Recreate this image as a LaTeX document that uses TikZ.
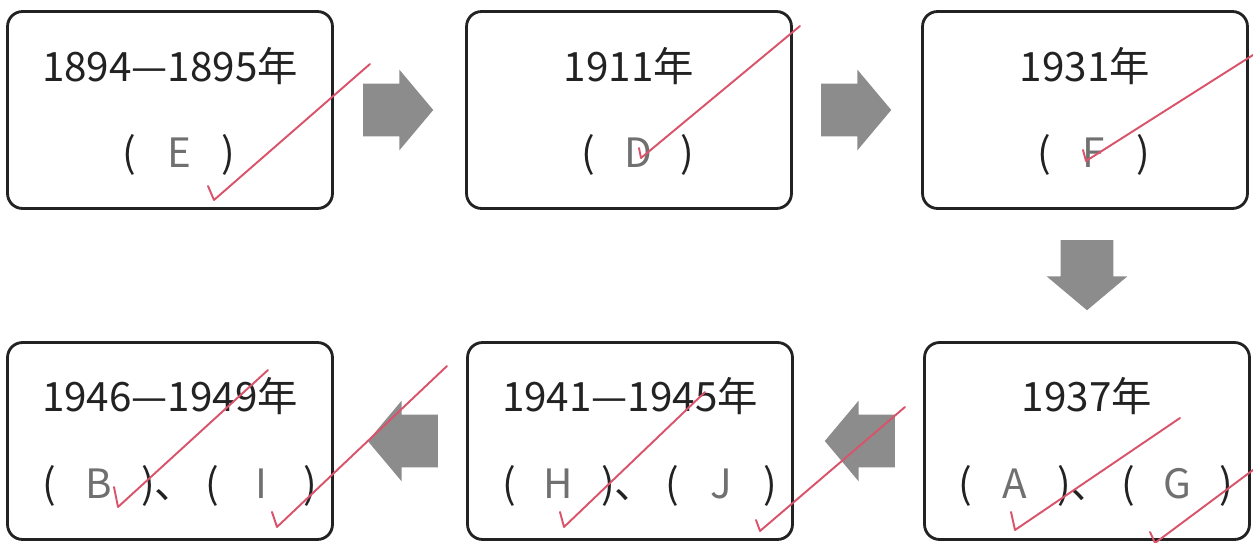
\documentclass[tikz,border=0pt]{standalone}
\usepackage{fontspec}
\setmainfont{Noto Sans CJK SC}
\usetikzlibrary{shapes.arrows,calc}
\definecolor{inkline}{HTML}{222222}
\definecolor{arrowgray}{HTML}{8C8C8C}
\definecolor{pencil}{HTML}{707070}
\definecolor{redpen}{HTML}{D9536A}
\newcommand{\ans}[1]{\makebox[2.1em]{\textcolor{pencil}{#1}}}

\begin{document}
\begin{tikzpicture}[x=0.02cm,y=-0.02cm,
  yearbox/.style={draw=inkline,line width=1.6pt,rounded corners=0.3cm,minimum width=6.5cm,minimum height=3.94cm,inner sep=0pt},
  yeartext/.style={font=\fontsize{23pt}{27pt}\selectfont,text=inkline,anchor=base,inner sep=0pt},
  flowarrow/.style={single arrow,fill=arrowgray,draw=none,anchor=tail,minimum height=1.4cm,inner xsep=0pt,inner ysep=0.52cm,single arrow head extend=0.28cm,single arrow tip angle=100},
  downarrow/.style={flowarrow,shape border rotate=270,inner xsep=0.52cm,inner ysep=0pt},
  tick/.style={draw=redpen,line width=1.1pt,line cap=round,line join=round}]
\useasboundingbox[fill=white] (0,0) rectangle (1253,543);

% boxes
\node[yearbox] (b1) at (170,110) {};
\node[yearbox] (b2) at (629,110) {};
\node[yearbox] (b3) at (1085,110) {};
\node[yearbox] (b4) at (170,441) {};
\node[yearbox] (b5) at (630,441) {};
\node[yearbox] (b6) at (1087,441) {};

% years
\node[yeartext] (y1) at ($(b1)+(0,-28)$) {1894—1895年};
\node[yeartext] (y2) at ($(b2)+(0,-28)$) {1911年};
\node[yeartext] (y3) at ($(b3)+(0,-28)$) {1931年};
\node[yeartext] (y4) at ($(b4)+(0,-29)$) {1946—1949年};
\node[yeartext] (y5) at ($(b5)+(0,-29)$) {1941—1945年};
\node[yeartext] (y6) at ($(b6)+(0,-29)$) {1937年};

% answers
\node[yeartext] (a1) at ($(b1)+(9,58)$) {(\ans{E})};
\node[yeartext] (a2) at ($(b2)+(9,58)$) {(\ans{D})};
\node[yeartext] (a3) at ($(b3)+(9,58)$) {(\ans{F})};
\node[yeartext] (a4) at ($(b4)+(10,57)$) {(\ans{B})、\hspace{0.25em}(\ans{I})};
\node[yeartext] (a5) at ($(b5)+(10,57)$) {(\ans{H})、\hspace{0.25em}(\ans{J})};
\node[yeartext] (a6) at ($(b6)+(9,57)$) {(\ans{A})、\hspace{0.25em}(\ans{G})};

% arrows
\node[flowarrow] (r12) at ($(b1.east)+(29,0)$) {};
\node[flowarrow] (r23) at ($(b2.east)+(28,0)$) {};
\node[downarrow] (r36) at ($(b3.south)+(2,30)$) {};
\node[flowarrow,shape border rotate=180] (r65) at ($(b6.west)+(-28,0)$) {};
\node[flowarrow,shape border rotate=180] (r54) at ($(b5.west)+(-28,0)$) {};

% red pen checks
\draw[tick] (208,186) -- (214,200) -- (370,64);
\draw[tick] (639,148) -- (641,158) -- (800,26);
\draw[tick] (1083,150) -- (1086,161) -- (1253,55);
\draw[tick] (114,487) -- (118,507) -- (268,370);
\draw[tick] (272,512) -- (277,527) -- (447,366);
\draw[tick] (560,512) -- (564,527) -- (705,392);
\draw[tick] (756,520) -- (760,531) -- (905,407);
\draw[tick] (1011,512) -- (1015,530) -- (1180,418);
\draw[tick] (1150,532) -- (1155,543) -- (1253,470);
\end{tikzpicture}
\end{document}
